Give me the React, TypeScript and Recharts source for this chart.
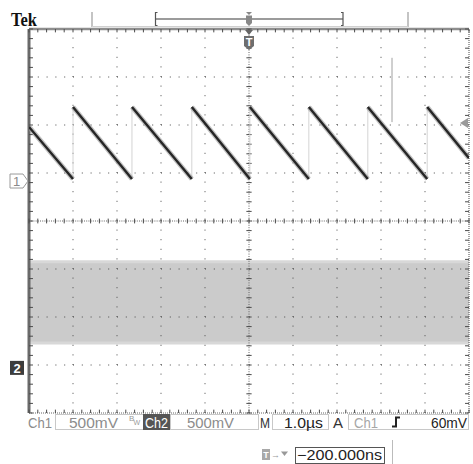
import React from 'react';
import { ComposedChart, Line, Area, XAxis, YAxis, ReferenceLine, ReferenceDot } from 'recharts';

// ---- Data (time in divisions of 1.0 µs, voltage in divisions of 500 mV) ----
const ch1Time = [0, 1.0, 1.0, 2.34, 2.34, 3.7, 3.7, 5.02, 5.02, 6.36, 6.36, 7.7, 7.7, 9.05, 9.05, 10];
const ch1Volt = [1.96, 0.875, 2.375, 0.875, 2.375, 0.875, 2.375, 0.875, 2.375, 0.875, 2.375, 0.875, 2.375, 0.875, 2.375, 1.31];
const glitchTime = [8.25, 8.25];
const glitchVolt = [3.4, 2.06];
const ch2Time = [0, 10];
const ch2Low = [-2.54, -2.54];
const ch2High = [-0.85, -0.85];
const ch1Ground = 0.833;
const ch2Ground = -3.06;
const trigLevel = 2.04;
const trigPos = 5;
const xMajor = [1, 2, 3, 4, 6, 7, 8, 9];
const yMajor = [-3, -2, -1, 1, 2, 3];

const W = 473;
const H = 464;

// falling (bright, thick) segments and rising (faint) edges, separated by nulls
const fallData: { t: number; v: number | null }[] = [];
const riseData: { t: number; v: number | null }[] = [];
for (let i = 0; i + 1 < ch1Time.length; i++) {
  const seg = [
    { t: ch1Time[i], v: ch1Volt[i] },
    { t: ch1Time[i + 1], v: ch1Volt[i + 1] },
    { t: ch1Time[i + 1], v: null },
  ];
  if (i % 2 === 0) fallData.push(...seg);
  else riseData.push(...seg);
}
const glitchData = glitchTime.map((t, i) => ({ t, v: glitchVolt[i] }));
const bandData = ch2Time.map((t, i) => ({ t, band: [ch2Low[i], ch2High[i]] }));

const minorX = Array.from({ length: 51 }, (_, i) => i * 0.2);
const minorY = Array.from({ length: 41 }, (_, i) => -4 + i * 0.2);

const GRID = '#4a4a4a';
const FONT = '"Liberation Sans", Arial, sans-serif';

const TMarker = (p: any) => {
  const { cx, cy } = p;
  return (
    <g>
      <path d={`M${cx - 4} ${cy + 1} L${cx + 4} ${cy + 1} L${cx} ${cy + 6} Z`} fill="#666" />
      <path d={`M${cx - 5} ${cy + 7} H${cx + 5} V${cy + 17} L${cx} ${cy + 21} L${cx - 5} ${cy + 17} Z`} fill="#6e6e6e" />
      <text x={cx} y={cy + 17} textAnchor="middle" fontSize={11} fontWeight="bold" fill="#fff" fontFamily={FONT}>T</text>
    </g>
  );
};

const Ch1Marker = (p: any) => {
  const { cx, cy } = p;
  return (
    <g>
      <path d={`M${cx - 19} ${cy - 7} H${cx - 6} L${cx - 1} ${cy} L${cx - 6} ${cy + 7} H${cx - 19} Z`} fill="#fff" stroke="#9a9a9a" strokeWidth={1} />
      <text x={cx - 12.5} y={cy + 5} textAnchor="middle" fontSize={13} fill="#8a8a8a" fontFamily={FONT}>1</text>
    </g>
  );
};

const Ch2Marker = (p: any) => {
  const { cx, cy } = p;
  return (
    <g>
      <rect x={cx - 19} y={cy - 7} width={14} height={14} fill="#3c3c3c" />
      <text x={cx - 12} y={cy + 5} textAnchor="middle" fontSize={13} fontWeight="bold" fill="#fff" fontFamily={FONT}>2</text>
    </g>
  );
};

const TrigArrow = (p: any) => {
  const { cx, cy } = p;
  return <path d={`M${cx - 9} ${cy} L${cx - 1} ${cy - 5} L${cx - 1} ${cy + 5} Z`} fill="#9a9a9a" />;
};

export default function App() {
  const seg = (a: { x: number; y: number }, b: { x: number; y: number }) => [a, b];
  return (
    <div style={{ position: 'absolute', left: 0, top: 0, width: W, height: H, background: '#fff', overflow: 'hidden' }}>
      <ComposedChart width={W} height={H} margin={{ top: 29, right: 4, bottom: 51, left: 29 }}>
        <XAxis type="number" dataKey="t" domain={[0, 10]} hide allowDataOverflow />
        <YAxis type="number" domain={[-4, 4]} hide allowDataOverflow />

        <Area
          data={bandData}
          dataKey="band"
          type="linear"
          fill="#cbcbcb"
          fillOpacity={1}
          stroke="#d8d8d8"
          strokeWidth={3}
          isAnimationActive={false}
          dot={false}
          activeDot={false}
        />

        {xMajor.map((x) => (
          <ReferenceLine key={'vx' + x} x={x} stroke={GRID} strokeWidth={1} strokeDasharray="1 8.6" />
        ))}
        {yMajor.map((y) => (
          <ReferenceLine key={'hy' + y} y={y} stroke={GRID} strokeWidth={1} strokeDasharray="1 7.8" />
        ))}
        <ReferenceLine x={5} stroke="#666" strokeWidth={1} strokeDasharray="1 1.4" />
        <ReferenceLine y={0} stroke="#666" strokeWidth={1} strokeDasharray="1 1.2" />
        <ReferenceLine x={0} stroke="#6a6a6a" strokeWidth={3} />
        <ReferenceLine y={4} stroke="#8e8e8e" strokeWidth={2.5} />
        <ReferenceLine x={10} stroke="#666" strokeWidth={1.2} strokeDasharray="1 1" />
        <ReferenceLine y={-4} stroke="#666" strokeWidth={1.2} strokeDasharray="1 1" />

        {minorX.map((x, i) => (
          <ReferenceLine key={'cxt' + i} segment={seg({ x, y: -0.05 }, { x, y: 0.05 })} stroke={GRID} ifOverflow="visible" />
        ))}
        {minorX.map((x, i) => (
          <ReferenceLine key={'txt' + i} segment={seg({ x, y: 4 }, { x, y: 3.93 })} stroke={GRID} ifOverflow="visible" />
        ))}
        {minorX.map((x, i) => (
          <ReferenceLine key={'bxt' + i} segment={seg({ x, y: -4 }, { x, y: -3.93 })} stroke={GRID} ifOverflow="visible" />
        ))}
        {minorY.map((y, i) => (
          <ReferenceLine key={'cyt' + i} segment={seg({ x: 4.94, y }, { x: 5.06, y })} stroke={GRID} ifOverflow="visible" />
        ))}
        {minorY.map((y, i) => (
          <ReferenceLine key={'lyt' + i} segment={seg({ x: 0, y }, { x: 0.09, y })} stroke={GRID} ifOverflow="visible" />
        ))}
        {minorY.map((y, i) => (
          <ReferenceLine key={'ryt' + i} segment={seg({ x: 10, y }, { x: 9.91, y })} stroke={GRID} ifOverflow="visible" />
        ))}

        <Line data={riseData} dataKey="v" type="linear" stroke="#d4d4d4" strokeWidth={1} dot={false} activeDot={false} connectNulls={false} isAnimationActive={false} />
        <Line data={glitchData} dataKey="v" type="linear" stroke="#a0a0a0" strokeWidth={1} dot={false} activeDot={false} isAnimationActive={false} />
        <Line data={fallData} dataKey="v" type="linear" stroke="#9a9a9a" strokeOpacity={0.6} strokeWidth={5} dot={false} activeDot={false} connectNulls={false} isAnimationActive={false} />
        <Line data={fallData} dataKey="v" type="linear" stroke="#262626" strokeWidth={2.4} dot={false} activeDot={false} connectNulls={false} isAnimationActive={false} />

        <ReferenceDot x={trigPos} y={4} r={0} shape={TMarker} ifOverflow="visible" />
        <ReferenceDot x={0} y={ch1Ground} r={0} shape={Ch1Marker} ifOverflow="visible" />
        <ReferenceDot x={0} y={ch2Ground} r={0} shape={Ch2Marker} ifOverflow="visible" />
        <ReferenceDot x={10} y={trigLevel} r={0} shape={TrigArrow} ifOverflow="visible" />
      </ComposedChart>

      <svg width={W} height={H} style={{ position: 'absolute', left: 0, top: 0, pointerEvents: 'none' }}>
        {/* header */}
        <text x={11} y={25.5} fontFamily='"Liberation Serif", serif' fontWeight="bold" fontSize={18} fill="#111" textLength={26} lengthAdjust="spacingAndGlyphs">Tek</text>
        <line x1={92} y1={12} x2={92} y2={27} stroke="#b0b0b0" strokeWidth={1.5} />
        <line x1={408} y1={12} x2={408} y2={27} stroke="#b0b0b0" strokeWidth={1.5} />
        <line x1={92} y1={26.5} x2={408} y2={26.5} stroke="#d0d0d0" strokeWidth={1} />
        <line x1={155} y1={19} x2={343} y2={19} stroke="#7a7a7a" strokeWidth={1.5} />
        <path d="M157.5 12.5 H155.5 V25.5 H157.5" fill="none" stroke="#555" strokeWidth={1.2} />
        <path d="M341 12.5 H343 V25.5 H341" fill="none" stroke="#555" strokeWidth={1.2} />
        <path d="M246 12 H252 L249 15 Z" fill="#888" />
        <path d="M246 15.5 H252 V23 L249 26 L246 23 Z" fill="#888" />

        {/* status row */}
        <g fontFamily={FONT} fontSize={15}>
          <text x={28} y={427.5} fill="#8c8c8c" textLength={24} lengthAdjust="spacingAndGlyphs">Ch1</text>
          <rect x={55.5} y={414.5} width={88} height={15} fill="none" stroke="#c8c8c8" />
          <text x={69} y={427.5} fill="#8c8c8c" textLength={49} lengthAdjust="spacingAndGlyphs">500mV</text>
          <text x={129} y={421} fill="#9a9a9a" fontSize={8}>B</text>
          <text x={133.5} y={425} fill="#9a9a9a" fontSize={7}>W</text>
          <rect x={143} y={414} width={27} height={16} fill="#555" />
          <text x={145} y={427.5} fill="#fff" textLength={23} lengthAdjust="spacingAndGlyphs">Ch2</text>
          <rect x={170.5} y={414.5} width={88} height={15} fill="none" stroke="#c8c8c8" />
          <text x={187} y={427.5} fill="#8c8c8c" textLength={47} lengthAdjust="spacingAndGlyphs">500mV</text>
          <text x={260} y={427.5} fill="#333" textLength={10} lengthAdjust="spacingAndGlyphs">M</text>
          <rect x={272.5} y={414.5} width={56} height={15} fill="none" stroke="#c8c8c8" />
          <text x={284} y={427.5} fill="#222" textLength={39} lengthAdjust="spacingAndGlyphs">1.0µs</text>
          <text x={333} y={427.5} fill="#333" textLength={10} lengthAdjust="spacingAndGlyphs">A</text>
          <rect x={348.5} y={414.5} width={120} height={15} fill="none" stroke="#c8c8c8" />
          <text x={354} y={427.5} fill="#a6a6a6" textLength={24} lengthAdjust="spacingAndGlyphs">Ch1</text>
          <path d="M392 426.5 H396 V417.5 H400" fill="none" stroke="#222" strokeWidth={2} />
          <text x={431} y={427.5} fill="#222" textLength={36} lengthAdjust="spacingAndGlyphs">60mV</text>
        </g>

        {/* trigger position row */}
        <rect x={262} y={449} width={8} height={11} fill="#a8a8a8" />
        <text x={266} y={458} textAnchor="middle" fontSize={9} fontWeight="bold" fill="#fff" fontFamily={FONT}>T</text>
        <text x={271} y={458} fontSize={9} fill="#999" fontFamily={FONT}>→</text>
        <path d="M281 451.5 H288 L284.5 456 Z" fill="#999" />
        <rect x={295.5} y={447.5} width={89} height={16} fill="none" stroke="#555" />
        <text x={297} y={460} fontFamily={FONT} fontSize={14} fill="#222" textLength={85} lengthAdjust="spacingAndGlyphs">−200.000ns</text>
        <line x1={392.5} y1={440} x2={392.5} y2={464} stroke="#bbb" strokeWidth={1} />
      </svg>
    </div>
  );
}
